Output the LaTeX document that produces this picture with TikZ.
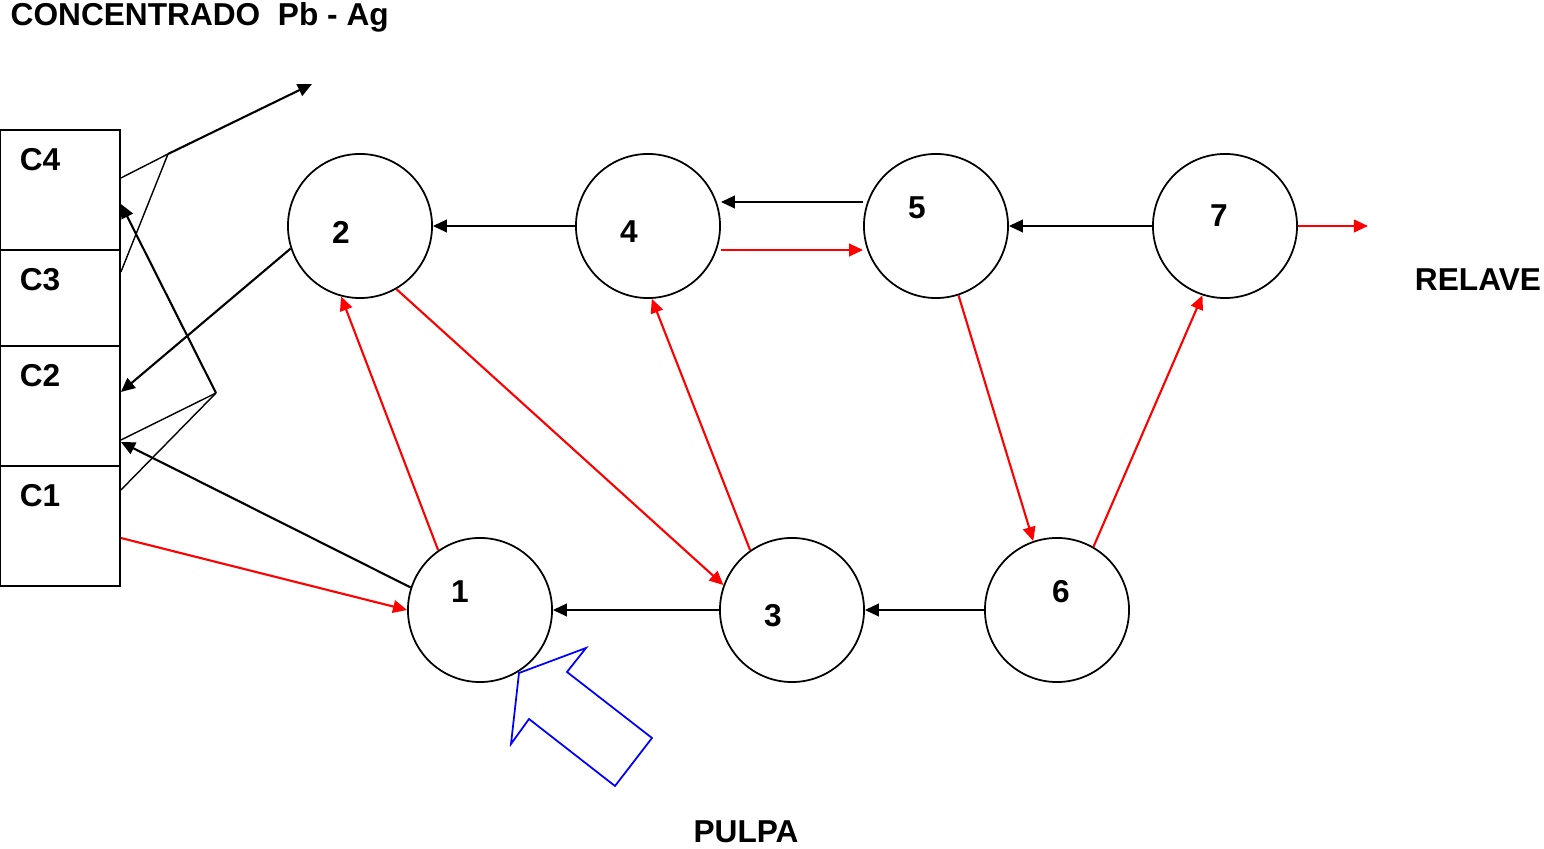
\documentclass[tikz,border=0pt]{standalone}
\usepackage{fontspec}
\setmainfont{Liberation Sans}
\usetikzlibrary{arrows.meta,calc}
\begin{document}
\begin{tikzpicture}[x=0.01cm, y=-0.01cm,
  celda/.style={circle, draw, line width=0.5pt, minimum size=1.44cm, inner sep=0pt},
  caja/.style={rectangle, draw, line width=0.5pt, minimum width=1.2cm, inner sep=0pt},
  txt/.style={font=\fontsize{9}{10}\selectfont\bfseries, inner sep=0pt},
  negra/.style={line width=0.6pt, -{Triangle[length=4pt, width=3.6pt]}},
  roja/.style={red, line width=0.6pt, -{Triangle[length=4pt, width=3.6pt]}},
  fina/.style={line width=0.4pt}]
\useasboundingbox (0,0) rectangle (1544,849);

% Column of concentrate boxes
\node[caja, minimum height=1.2cm] (C4) at (60,190) {};
\node[caja, minimum height=0.96cm] (C3) at (60,298) {};
\node[caja, minimum height=1.2cm] (C2) at (60,406) {};
\node[caja, minimum height=1.2cm] (C1) at (60,526) {};
\node[txt] at (40,160) {C4};
\node[txt] at (40,280) {C3};
\node[txt] at (40,376) {C2};
\node[txt] at (40,496) {C1};

% Flotation cells
\node[celda] (c1) at (480,610) {};
\node[celda] (c2) at (360,226) {};
\node[celda] (c3) at (792,610) {};
\node[celda] (c4) at (648,226) {};
\node[celda] (c5) at (936,226) {};
\node[celda] (c6) at (1057,610) {};
\node[celda] (c7) at (1225,226) {};
\node[txt] at (460,592) {1};
\node[txt] at (341,232) {2};
\node[txt] at (773,616) {3};
\node[txt] at (629,232) {4};
\node[txt] at (917,208) {5};
\node[txt] at (1061,592) {6};
\node[txt] at (1219,216) {7};

% Texts
\node[txt, anchor=west] (titulo) at (10,17) {CONCENTRADO\ \ Pb - Ag};
\node[txt] (relave) at (1478,280) {RELAVE};
\node[txt] (pulpa) at (746,832) {PULPA};

% Junctions and free ends
\coordinate (j1) at (216,393);
\coordinate (j2) at (168,154);
\coordinate (sal1) at (312,84);
\coordinate (sal2) at (1368,226);

% Black connectors
\draw[negra] (c4.west) -- (c2.east);
\draw[negra] ($(c5.west)+(0,-24)$) -- ($(c4.east)+(0,-24)$);
\draw[negra] (c7.west) -- (c5.east);
\draw[negra] (c3.west) -- (c1.east);
\draw[negra] (c6.west) -- (c3.east);
\draw[negra] (c1.162) -- ($(C2.east)+(0,36)$);
\draw[negra] (c2.-162) -- ($(C2.east)+(0,-14)$);
\draw[fina] ($(C1.east)+(0,-36)$) -- (j1);
\draw[fina] ($(C2.east)+(0,34)$) -- (j1);
\draw[negra] (j1) -- ($(C4.east)+(0,14)$);
\draw[fina] ($(C3.east)+(0,-26)$) -- (j2);
\draw[fina] ($(C4.east)+(0,-12)$) -- (j2);
\draw[negra] (j2) -- (sal1);

% Red connectors
\draw[roja] ($(C1.east)+(0,12)$) -- (c1.west);
\draw[roja] (c1.125) -- (c2.-105);
\draw[roja] (c2.-60) -- (c3.160);
\draw[roja] (c3.125) -- (c4.-87);
\draw[roja] ($(c4.east)+(0,24)$) -- ($(c5.west)+(0,24)$);
\draw[roja] (c5.-72) -- (c6.109);
\draw[roja] (c6.60) -- (c7.-108);
\draw[roja] (c7.east) -- (sal2);

% Feed arrow
\draw[blue, line width=0.5pt] (519,673) -- (586,648) -- (567,672) -- (652,738)
  -- (615,786) -- (529,719) -- (511,744) -- cycle;
\end{tikzpicture}
\end{document}
